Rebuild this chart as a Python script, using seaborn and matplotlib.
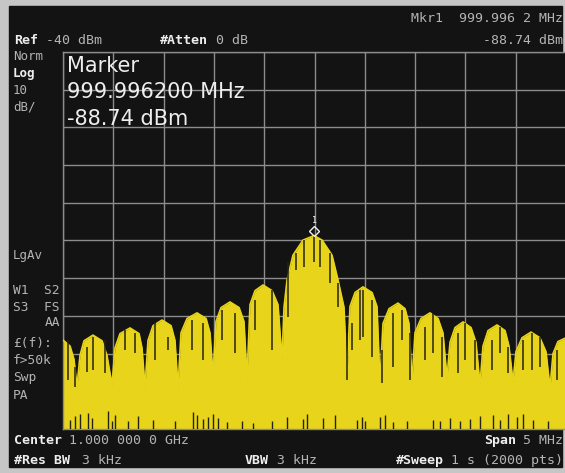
import matplotlib
matplotlib.use("Agg")
import numpy as np
import pandas as pd
import matplotlib.pyplot as plt
from matplotlib.patches import Rectangle
from matplotlib.transforms import offset_copy
import seaborn as sns

# analyzer settings shown on screen
center_mhz = 1000.0
span_mhz = 5.0
ref_dbm = -40
db_per_div = 10

# marker 1
mkr_freq = 999.9962
mkr_dbm = -88.74

# trace envelope (MHz, dBm)
env_freq = [997.500, 997.570, 997.609, 997.639,
            997.669, 997.709, 997.798, 997.888, 997.937, 997.987,
            998.017, 998.067, 998.166, 998.256, 998.285, 998.315,
            998.345, 998.395, 998.484, 998.574, 998.613, 998.643,
            998.673, 998.733, 998.832, 998.922, 998.961, 998.991,
            999.021, 999.071, 999.160, 999.250, 999.299, 999.329,
            999.359, 999.409, 999.488, 999.578, 999.637, 999.677,
            999.697, 999.727, 999.786, 999.886, 999.996, 1000.075, 1000.174, 1000.234, 1000.293,
            1000.323,
            1000.353, 1000.403, 1000.482, 1000.572, 1000.621, 1000.651,
            1000.681, 1000.741, 1000.830, 1000.900, 1000.939, 1000.969,
            1000.999, 1001.059, 1001.148, 1001.228, 1001.277, 1001.317,
            1001.347, 1001.397, 1001.476, 1001.556, 1001.605, 1001.645,
            1001.675, 1001.725, 1001.814, 1001.894, 1001.933, 1001.973,
            1002.003, 1002.063, 1002.152, 1002.241, 1002.301, 1002.341,
            1002.371, 1002.420, 1002.500]
env_dbm = [-116.4, -118.0, -121.5, -128.9,
           -120.5, -116.6, -115.1, -116.6, -120.5, -128.3,
           -118.5, -114.7, -113.2, -114.7, -118.5, -128.9,
           -116.5, -112.6, -111.1, -112.6, -116.5, -129.1,
           -114.5, -110.7, -109.2, -110.7, -114.5, -125.7,
           -111.5, -107.8, -106.3, -107.8, -111.5, -126.5,
           -107.0, -103.3, -101.8, -103.3, -107.0, -121.7,
           -107.7, -100.5, -93.9, -89.9, -88.7, -89.9, -93.9, -100.5, -107.7,
           -126.2,
           -107.5, -103.8, -102.3, -103.8, -107.5, -127.8,
           -112.0, -108.1, -106.6, -108.1, -112.0, -127.5,
           -114.5, -110.7, -109.2, -110.7, -114.5, -126.5,
           -117.0, -113.1, -111.6, -113.1, -117.0, -128.3,
           -118.0, -113.9, -112.4, -113.9, -118.0, -127.5,
           -119.5, -115.8, -114.3, -115.8, -119.5, -129.1,
           -120.0, -116.8, -115.8]

# dark dropouts inside the filled trace (MHz, top dBm, bottom dBm)
drop_freq = [997.550, 997.619, 997.739, 997.798, 997.918, 998.116, 998.216, 998.415,
             998.544, 998.782, 998.892, 999.081, 999.210, 999.409, 999.578, 999.737,
             999.816, 999.896, 999.996, 1000.055, 1000.154, 1000.234, 1000.323, 1000.373,
             1000.452, 1000.482, 1000.572, 1000.671, 1000.780, 1000.870, 1000.949, 1001.098,
             1001.178, 1001.267, 1001.426, 1001.496, 1001.595, 1001.764, 1001.844, 1001.923,
             1002.072, 1002.162, 1002.241, 1002.410]
drop_top = [-116.4, -123.6, -118.3, -115.6, -116.4, -113.8, -114.5, -111.9,
            -115.6, -111.1, -111.9, -108.4, -109.2, -105.8, -103.1, -95.7,
            -93.3, -89.9, -88.8, -89.9, -93.3, -101.3, -114.5, -111.9,
            -103.1, -103.1, -105.8, -119.1, -109.2, -108.4, -114.5, -113.0,
            -109.2, -115.6, -114.5, -111.9, -116.4, -116.4, -113.0, -118.3,
            -116.4, -114.5, -115.6, -119.1]
drop_bot = [-127.0, -128.9, -124.9, -124.4, -125.2, -119.1, -119.9, -121.7,
            -119.1, -119.1, -121.7, -116.4, -119.9, -113.8, -119.1, -110.3,
            -97.8, -97.0, -95.7, -97.0, -101.3, -107.7, -127.0, -119.1,
            -116.4, -115.6, -120.9, -127.8, -123.6, -116.4, -127.0, -121.7,
            -119.9, -126.2, -125.2, -121.7, -124.4, -124.4, -119.9, -125.2,
            -124.4, -124.4, -123.6, -127.0]

# short dark ticks along the bottom of the trace
tick_freq = [997.570, 997.619, 997.669, 997.749, 997.788, 997.947, 997.987, 998.017,
             998.146, 998.246, 998.395, 998.613, 998.792, 998.832, 998.892, 998.941,
             998.991, 999.041, 999.130, 999.279, 999.389, 999.578, 999.727, 999.886,
             999.925, 1000.084, 1000.204, 1000.422, 1000.472, 1000.502, 1000.651, 1000.701,
             1000.780, 1000.919, 1001.178, 1001.247, 1001.347, 1001.446, 1001.546, 1001.645,
             1001.774, 1001.844, 1001.923, 1002.013, 1002.072, 1002.172, 1002.321]
tick_top = [-137.5, -136.5, -136.0, -135.8, -137.0, -135.2, -137.8, -136.4,
            -137.9, -136.6, -137.7, -138.0, -135.6, -136.2, -137.4, -136.8,
            -136.0, -137.2, -138.2, -137.9, -138.4, -138.0, -136.9, -137.3,
            -136.1, -137.0, -136.4, -137.5, -136.7, -137.8, -136.9, -136.3,
            -138.1, -137.9, -137.6, -138.0, -137.2, -137.9, -137.4, -136.5,
            -136.3, -137.7, -136.0, -136.8, -135.9, -137.6, -137.9]

YELLOW = "#e8d41a"
DARK = "#262410"
SCREEN = "#131313"
GRID = "#8c8c8c"
WHITE = "#eeeeee"
GREY = "#b4b4b4"

sns.set_theme(style="dark")
plt.rcParams["font.family"] = ["DejaVu Sans Mono"]

W, H = 565, 473
fig = plt.figure(figsize=(W / 100, H / 100), dpi=100, facecolor="#c6c6c6")
# black screen behind everything
fig.patches.append(Rectangle((9 / W, 1 - 467 / H), 553 / W, 461 / H,
                             transform=fig.transFigure, color=SCREEN, zorder=-10))

ax = fig.add_axes([63 / W, 1 - 429 / H, 503 / W, 377 / H])
ax.set_facecolor(SCREEN)

bottom = ref_dbm - 10 * db_per_div
env = pd.DataFrame({"freq": env_freq, "dbm": env_dbm})
ax.fill_between(env["freq"], env["dbm"], bottom, color=YELLOW, lw=0, zorder=2)
sns.lineplot(data=env, x="freq", y="dbm", color=YELLOW, lw=1.2, ax=ax, zorder=3)
ax.vlines(drop_freq, drop_bot, drop_top, color=DARK, lw=1.1, zorder=4)
ax.vlines(tick_freq, bottom, tick_top, color=DARK, lw=1.0, zorder=4)

# marker diamond sits just above the trace
mk_tr = offset_copy(ax.transData, fig=fig, y=5, units="dots")
ax.plot([mkr_freq], [mkr_dbm], marker="D", ms=5, mfc="none", mec=WHITE, mew=1.0,
        transform=mk_tr, zorder=6)
ax.text(mkr_freq, mkr_dbm, "1", color=WHITE, fontsize=6, ha="center", va="bottom",
        transform=offset_copy(ax.transData, fig=fig, y=11, units="dots"), zorder=6)

ax.set_xlim(center_mhz - span_mhz / 2, center_mhz + span_mhz / 2)
ax.set_ylim(bottom, ref_dbm)
ax.set_xticks(np.linspace(center_mhz - span_mhz / 2, center_mhz + span_mhz / 2, 11))
ax.set_yticks(np.arange(bottom, ref_dbm + 1, db_per_div))
ax.grid(True, color=GRID, lw=1.0)
ax.set_axisbelow(True)
ax.tick_params(length=0, labelbottom=False, labelleft=False)
ax.set_xlabel("")
ax.set_ylabel("")
for s in ax.spines.values():
    s.set_color(GRID)
    s.set_linewidth(1.0)


def t(x, y, s, bold=False, color=GREY, ha="left", size=9.5, family=None):
    kw = {}
    if family:
        kw["family"] = family
    fig.text(x / W, 1 - y / H, s, color=color, ha=ha, va="center", fontsize=size,
             fontweight="bold" if bold else "normal", **kw)


# top status lines
t(563, 18, "Mkr1  999.996 2 MHz", ha="right")
t(14, 41, "Ref", bold=True, color=WHITE)
t(46, 41, "-40 dBm")
t(160, 41, "#Atten", bold=True, color=WHITE)
t(216, 41, "0 dB")
t(563, 41, "-88.74 dBm", ha="right")

# left column annotations
t(13, 57, "Norm", size=9)
t(13, 74, "Log", bold=True, color=WHITE, size=9)
t(13, 91, "10", size=9)
t(13, 107, "dB/", size=9)
t(13, 255, "LgAv", size=9)
t(13, 291, "W1  S2", size=9.3)
t(13, 307, "S3  FS", size=9.3)
t(60, 323, "AA", ha="right", size=9.3)
t(13, 343, "£(f):", size=9.3)
t(13, 361, "f>50k", size=9.3)
t(13, 378, "Swp", size=9.3)
t(13, 395, "PA", size=9.3)

# marker readout box
big = ["Liberation Sans Narrow", "DejaVu Sans"]
t(67, 66, "Marker", color=WHITE, size=15, family=big)
t(67, 92, "999.996200 MHz", color=WHITE, size=15, family=big)
t(67, 119, "-88.74 dBm", color=WHITE, size=15, family=big)

# bottom status lines
t(14, 440, "Center", bold=True, color=WHITE)
t(69, 440, "1.000 000 0 GHz")
t(516, 440, "Span", bold=True, color=WHITE, ha="right")
t(563, 440, "5 MHz", ha="right")
t(14, 460, "#Res BW", bold=True, color=WHITE)
t(82, 460, "3 kHz")
t(245, 460, "VBW", bold=True, color=WHITE)
t(277, 460, "3 kHz")
t(444, 460, "#Sweep", bold=True, color=WHITE, ha="right")
t(563, 460, "1 s (2000 pts)", ha="right")

fig.savefig("out.png", dpi=100, facecolor=fig.get_facecolor())
